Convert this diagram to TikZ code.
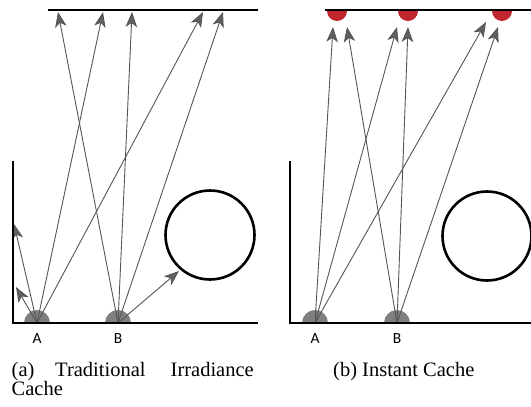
\documentclass[tikz,border=0pt]{standalone}
\usepackage{fontspec}
\setmainfont{Liberation Serif}
\newfontfamily\lblfont{Carlito}
\usetikzlibrary{arrows.meta}
\definecolor{raygray}{HTML}{555555}
\definecolor{headgray}{HTML}{606060}
\definecolor{spotgray}{HTML}{7F7F7F}
\definecolor{cachered}{HTML}{C0262D}
\tikzset{
  wall/.style={line width=2.6pt, black},
  ray/.style={draw=raygray, line width=0.9pt, -{Stealth[length=15pt, width=11.5pt, inset=4pt, fill=headgray]}},
  spot/.style={fill=spotgray},
  ptlabel/.style={font=\lblfont\fontsize{15.5}{15.5}\selectfont, inner sep=0pt},
  caption/.style={font=\fontsize{20.5}{24}\selectfont, inner sep=0pt, anchor=base west},
}
\begin{document}
\begin{tikzpicture}[x=1pt, y=-1pt]
\useasboundingbox (0,0) rectangle (531,407);
% ---------- panel (a)
\coordinate (aA) at (37,323);
\coordinate (aB) at (118,323);
\fill[spot] (24,323) arc[start angle=180, end angle=360, radius=13] -- cycle;
\fill[spot] (105,323) arc[start angle=180, end angle=360, radius=13] -- cycle;
\coordinate (at1) at (58,12);
\coordinate (at2) at (103,12);
\coordinate (at3) at (132,12);
\coordinate (at4) at (203,12);
\coordinate (at5) at (223,12);
\coordinate (aw1) at (14,224);
\coordinate (aw2) at (16,287);
\coordinate (ac) at (179,271);
\draw[ray] (aA) -- (at2);
\draw[ray] (aA) -- (at4);
\draw[ray] (aA) -- (aw1);
\draw[ray] (aA) -- (aw2);
\draw[ray] (aB) -- (at1);
\draw[ray] (aB) -- (at3);
\draw[ray] (aB) -- (at5);
\draw[ray] (aB) -- (ac);
\draw[wall] (48,10) -- (258,10);
\draw[wall] (13,161) -- (13,323) -- (258,323);
\node[draw, line width=2.6pt, circle, minimum size=89pt, inner sep=0pt] (acirc) at (210,235) {};
\node[ptlabel] (aAl) at (37,339) {A};
\node[ptlabel] (aBl) at (118,339) {B};
% ---------- panel (b)
\coordinate (bA) at (315,323);
\coordinate (bB) at (397,323);
\fill[spot] (302,323) arc[start angle=180, end angle=360, radius=13] -- cycle;
\fill[spot] (384,323) arc[start angle=180, end angle=360, radius=13] -- cycle;
\fill[cachered] (327,9) -- (327,11) arc[start angle=180, end angle=0, radius=10] -- (347,9) -- cycle;
\fill[cachered] (398,9) -- (398,11) arc[start angle=180, end angle=0, radius=10] -- (418,9) -- cycle;
\fill[cachered] (492,9) -- (492,11) arc[start angle=180, end angle=0, radius=10] -- (512,9) -- cycle;
\coordinate (bt1) at (333,27);
\coordinate (bt2) at (347,27);
\coordinate (bt3) at (397,27);
\coordinate (bt4) at (408,27);
\coordinate (bt5) at (486,22);
\coordinate (bt6) at (498,27);
\draw[ray] (bA) -- (bt1);
\draw[ray] (bA) -- (bt3);
\draw[ray] (bA) -- (bt5);
\draw[ray] (bB) -- (bt2);
\draw[ray] (bB) -- (bt4);
\draw[ray] (bB) -- (bt6);
\draw[wall] (325,10) -- (531,10);
\draw[wall] (290,161) -- (290,323) -- (531,323);
\node[draw, line width=2.6pt, circle, minimum size=89pt, inner sep=0pt] (bcirc) at (487,236) {};
\node[ptlabel] (bAl) at (315,339) {A};
\node[ptlabel] (bBl) at (397,339) {B};
% ---------- captions
\node[caption] (capa1) at (11.5,376.5) {(a)};
\node[caption] (capa2) at (55,376.5) {Traditional};
\node[caption] (capa3) at (170.5,376.5) {Irradiance};
\node[caption] (capa4) at (11.5,395.5) {Cache};
\node[caption] (capb) at (333,376.5) {(b) Instant Cache};
\end{tikzpicture}
\end{document}
